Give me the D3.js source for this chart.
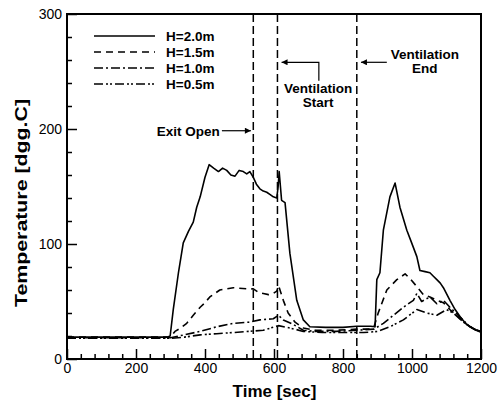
<!DOCTYPE html>
<html>
<head>
<meta charset="utf-8">
<script src="https://cdn.jsdelivr.net/npm/d3@7"></script>
<style>
  body { margin: 0; background: #fff; }
  svg { font-family: "Liberation Sans", Arial, sans-serif; }
  .bold { font-weight: bold; }
</style>
</head>
<body>
<div id="chart"></div>
<script>
// ******* Data *******
var seriesNames = ["H=2.0m", "H=1.5m", "H=1.0m", "H=0.5m"];

var h20Time = [0, 100, 200, 290, 299, 308, 323, 337, 352, 366, 376, 386, 400, 412, 425, 439, 451, 463, 475, 487, 499, 511, 521, 530, 540, 549, 559, 569, 579, 589, 598, 608, 612, 615, 622, 632, 646, 666, 685, 704, 750, 800, 840, 880, 893, 898, 907, 917, 936, 951, 965, 985, 999, 1014, 1023, 1038, 1052, 1062, 1072, 1082, 1091, 1110, 1125, 1139, 1155, 1168, 1185, 1200];
var h20Temp = [19, 19, 19, 19, 20, 43, 75, 101, 111, 119, 132, 141, 158, 169, 166, 163, 166, 164, 160, 159, 164, 163, 161, 163, 158, 152, 148, 146, 145, 143, 141, 140, 150, 163, 138, 136, 92, 51, 34, 28, 27.5, 27.5, 28.5, 28.5, 28, 69, 75, 112, 141, 153, 132, 112, 101, 89, 77, 76, 75, 72, 69, 66, 62, 51, 43, 37, 31, 28, 25, 24];

var h15Time = [0, 100, 200, 300, 313, 330, 347, 366, 386, 400, 414, 443, 482, 521, 540, 555, 569, 584, 598, 608, 613, 627, 641, 661, 685, 720, 780, 840, 880, 890, 902, 927, 956, 980, 994, 1014, 1033, 1052, 1072, 1091, 1110, 1129, 1159, 1180, 1200];
var h15Temp = [19, 19, 19, 19, 24, 27, 31, 38, 45, 49, 54, 60, 62, 61, 61, 58, 57, 56, 57, 59, 64, 51, 40, 32, 27, 25, 25, 26, 26, 28, 40, 60, 69, 74, 70, 63, 56, 54, 51, 49, 43, 38, 30, 26, 24];

var h10Time = [0, 100, 200, 300, 340, 386, 434, 482, 526, 559, 598, 613, 627, 656, 685, 720, 780, 840, 890, 917, 946, 975, 1004, 1014, 1028, 1052, 1072, 1091, 1110, 1134, 1168, 1200];
var h10Temp = [18.5, 18.5, 18.5, 18.5, 21, 24, 28, 31, 32, 34, 35, 38, 34, 30, 25, 24, 24, 25, 26, 31, 38, 45, 51, 57, 50, 54, 48, 51, 45, 38, 28, 23];

var h05Time = [0, 100, 200, 300, 340, 386, 434, 482, 526, 569, 613, 646, 685, 740, 800, 860, 900, 936, 975, 1014, 1043, 1072, 1100, 1120, 1149, 1175, 1200];
var h05Temp = [18, 18, 18, 18, 19, 21, 22, 23, 24, 25, 29, 27, 24, 23, 23, 23, 24, 28, 34, 43, 40, 38, 43, 40, 32, 27, 23];

var seriesTime = [h20Time, h15Time, h10Time, h05Time];
var seriesTemp = [h20Temp, h15Temp, h10Temp, h05Temp];
var seriesDash = [null, "7,5", "9,3,2,3", "9,3,2,2,2,3"];

var eventTimes = [540, 610, 840];
var xTicks = [0, 200, 400, 600, 800, 1000, 1200];
var yTicks = [0, 100, 200, 300];

// ******* Chart set up *******
var w = 499;
var h = 402;
var margin = { top: 14, right: 18, bottom: 43, left: 67 };
var svg = d3.select("#chart").append("svg").attr("width", w).attr("height", h);

var x = d3.scaleLinear().domain([0, 1200]).range([margin.left, w - margin.right]);
var y = d3.scaleLinear().domain([0, 300]).range([h - margin.bottom, margin.top]);

// ******* Axes *******
var xAxis = svg.append("g").attr("transform", `translate(0,${y(0)})`)
  .call(d3.axisBottom(x).tickValues(xTicks).tickSize(-10).tickPadding(4).tickFormat(d3.format("d")));
var xMinor = svg.append("g").attr("transform", `translate(0,${y(0)})`)
  .call(d3.axisBottom(x).tickValues(d3.range(0, 1201, 40).filter(d => d % 200 != 0)).tickSize(-5).tickFormat(""));
var yAxis = svg.append("g").attr("transform", `translate(${x(0)},0)`)
  .call(d3.axisLeft(y).tickValues(yTicks).tickSize(-10).tickPadding(5));
var yMinor = svg.append("g").attr("transform", `translate(${x(0)},0)`)
  .call(d3.axisLeft(y).tickValues(d3.range(0, 301, 20).filter(d => d % 100 != 0)).tickSize(-5).tickFormat(""));

[xAxis, xMinor, yAxis, yMinor].forEach(a => {
  a.select(".domain").remove();
  a.selectAll("line").attr("stroke", "#000").attr("stroke-width", 1.5);
  a.selectAll("text").attr("font-size", 14).attr("fill", "#000")
    .attr("font-family", "'Liberation Sans', Arial, sans-serif");
});

// frame
svg.append("rect")
  .attr("x", x(0)).attr("y", y(300))
  .attr("width", x(1200) - x(0)).attr("height", y(0) - y(300))
  .attr("fill", "none").attr("stroke", "#000").attr("stroke-width", 2);

// axis titles
svg.append("text").attr("class", "bold")
  .attr("x", 274.5).attr("y", 397)
  .attr("text-anchor", "middle").attr("font-size", 17)
  .text("Time [sec]");
svg.append("text").attr("class", "bold")
  .attr("transform", "translate(27,203) rotate(-90)")
  .attr("text-anchor", "middle").attr("font-size", 17)
  .attr("textLength", 208).attr("lengthAdjust", "spacingAndGlyphs")
  .text("Temperature [dgg.C]");

// ******* Event lines *******
svg.selectAll(".event")
  .data(eventTimes)
  .enter().append("line")
  .attr("class", "event")
  .attr("x1", d => x(d)).attr("x2", d => x(d))
  .attr("y1", y(300)).attr("y2", y(0))
  .attr("stroke", "#000").attr("stroke-width", 1.5)
  .attr("stroke-dasharray", "8,4");

// ******* Curves *******
var line = d3.line().x(d => x(d[0])).y(d => y(d[1]));
seriesNames.forEach((name, i) => {
  var pts = seriesTime[i].map((t, j) => [t, seriesTemp[i][j]]);
  svg.append("path")
    .attr("d", line(pts))
    .attr("fill", "none").attr("stroke", "#000")
    .attr("stroke-width", 1.6)
    .attr("stroke-linejoin", "round")
    .attr("stroke-dasharray", seriesDash[i]);
});

// ******* Legend *******
seriesNames.forEach((name, i) => {
  var ly = 36 + i * 16;
  svg.append("line")
    .attr("x1", 94).attr("x2", 155).attr("y1", ly).attr("y2", ly)
    .attr("stroke", "#000").attr("stroke-width", 1.6)
    .attr("stroke-dasharray", seriesDash[i]);
  svg.append("text").attr("class", "bold")
    .attr("x", 166).attr("y", ly + 4.7).attr("font-size", 13.5)
    .text(name);
});

// ******* Annotations *******
svg.append("defs").append("marker")
  .attr("id", "arrow").attr("viewBox", "0 0 10 10")
  .attr("refX", 10).attr("refY", 5)
  .attr("markerWidth", 9).attr("markerHeight", 6)
  .attr("markerUnits", "userSpaceOnUse")
  .attr("orient", "auto")
  .append("path").attr("d", "M0,0L10,5L0,10Z").attr("fill", "#000");

// Exit Open
svg.append("line")
  .attr("x1", x(449)).attr("x2", x(533)).attr("y1", y(198.5)).attr("y2", y(198.5))
  .attr("stroke", "#000").attr("stroke-width", 1.2).attr("marker-end", "url(#arrow)");
svg.append("text").attr("class", "bold")
  .attr("x", x(443)).attr("y", y(198.5) + 4.8).attr("text-anchor", "end").attr("font-size", 13.5)
  .text("Exit Open");

// Ventilation Start
svg.append("path")
  .attr("d", `M${x(730)},${y(242)}L${x(730)},${y(258)}L${x(622)},${y(258)}`)
  .attr("fill", "none").attr("stroke", "#000").attr("stroke-width", 1.2)
  .attr("marker-end", "url(#arrow)");
svg.append("text").attr("class", "bold")
  .attr("x", x(728)).attr("y", y(231)).attr("text-anchor", "middle").attr("font-size", 13.5)
  .text("Ventilation");
svg.append("text").attr("class", "bold")
  .attr("x", x(728)).attr("y", y(219)).attr("text-anchor", "middle").attr("font-size", 13.5)
  .text("Start");

// Ventilation End
svg.append("line")
  .attr("x1", x(927)).attr("x2", x(852)).attr("y1", y(258)).attr("y2", y(258))
  .attr("stroke", "#000").attr("stroke-width", 1.2).attr("marker-end", "url(#arrow)");
svg.append("text").attr("class", "bold")
  .attr("x", x(1037)).attr("y", y(261)).attr("text-anchor", "middle").attr("font-size", 13.5)
  .text("Ventilation");
svg.append("text").attr("class", "bold")
  .attr("x", x(1037)).attr("y", y(249)).attr("text-anchor", "middle").attr("font-size", 13.5)
  .text("End");
</script>
</body>
</html>
